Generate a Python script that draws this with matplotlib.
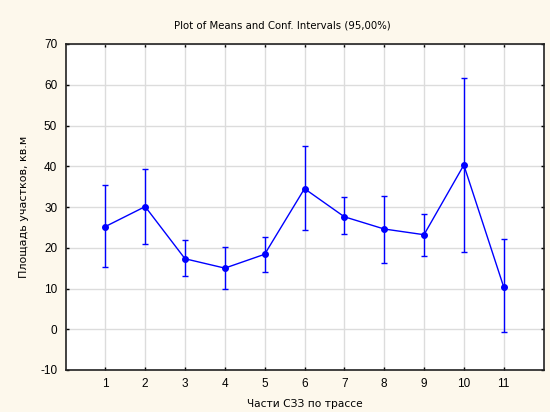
import matplotlib
matplotlib.use("Agg")
import matplotlib.pyplot as plt
import numpy as np

plt.rcParams['font.family'] = ['Liberation Sans', 'DejaVu Sans']
plt.rcParams['axes.unicode_minus'] = False

parts = [1, 2, 3, 4, 5, 6, 7, 8, 9, 10, 11]
means = [25.2, 30.1, 17.3, 15.0, 18.4, 34.5, 27.6, 24.6, 23.2, 40.3, 10.4]
upper = [35.4, 39.4, 21.8, 20.3, 22.7, 45.0, 32.4, 32.7, 28.4, 61.7, 22.2]
lower = [15.2, 20.8, 13.1, 10.0, 14.0, 24.4, 23.4, 16.3, 18.0, 19.0, -0.75]
yticks = [-10, 0, 10, 20, 30, 40, 50, 60, 70]

bg = '#FDF8EC'
fig = plt.figure(figsize=(5.5, 4.12), dpi=100, facecolor=bg)
ax = fig.add_axes([65.5/550, 1-370/412, (543.5-65.5)/550, (370-44)/412])
ax.set_facecolor('white')

m = np.array(means)
yerr = [m - np.array(lower), np.array(upper) - m]
ax.errorbar(parts, means, yerr=yerr, color='#0000FF', lw=1.0, elinewidth=1.0,
            capsize=2.5, capthick=1.0, marker='o', ms=4, mfc='#0000FF',
            mec='#0000FF', zorder=3)

ax.set_xlim(0, 12)
ax.set_ylim(-10, 70)
ax.set_xticks(parts)
ax.set_yticks(yticks)
ax.grid(True, color='#DCDCDC', lw=1.0, zorder=0)
ax.set_axisbelow(True)
ax.tick_params(direction='in', length=2, width=1, labelsize=8.5, colors='black',
               top=True, right=True, pad=6)
for s in ax.spines.values():
    s.set_color('#222222')
    s.set_linewidth(1.2)

fig.text(282/550, 1-25/412, 'Plot of Means and Conf. Intervals (95,00%)',
         fontsize=7.25, family='DejaVu Sans', ha='center', va='center')
ax.set_xlabel('Части СЗЗ по трассе', fontsize=7.7, family='DejaVu Sans', labelpad=6)
ax.set_ylabel('Площадь участков, кв.м', fontsize=8, family='DejaVu Sans', labelpad=8)

fig.savefig('out.png', dpi=100, facecolor=bg)
